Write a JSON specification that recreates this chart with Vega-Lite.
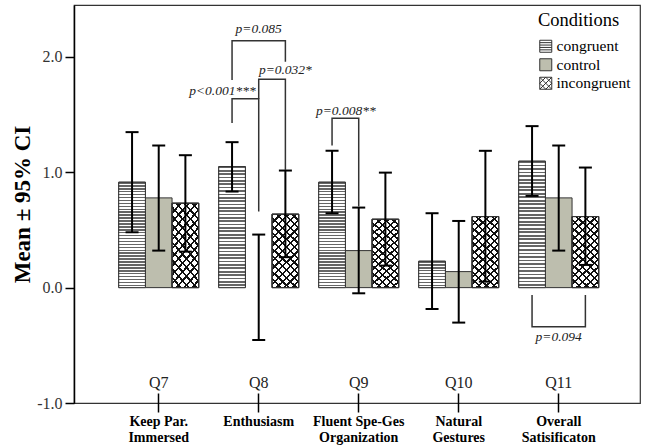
{
  "$schema": "https://vega.github.io/schema/vega-lite/v6.json",
  "width": 566,
  "height": 398,
  "autosize": {"type": "none"},
  "padding": {"left": 74, "top": 5, "right": 8, "bottom": 44},
  "config": {
    "font": "Liberation Serif",
    "view": {"stroke": "#333", "strokeWidth": 1.2}
  },
  "datasets": {
    "bars": [
      {"q": "Q7", "cond": "congruent", "mean": 0.914, "lo": 0.48, "hi": 1.348},
      {"q": "Q7", "cond": "control", "mean": 0.778, "lo": 0.321, "hi": 1.232},
      {"q": "Q7", "cond": "incongruent", "mean": 0.732, "lo": 0.312, "hi": 1.148},
      {"q": "Q8", "cond": "congruent", "mean": 1.049, "lo": 0.833, "hi": 1.261},
      {"q": "Q8", "cond": "control", "mean": 0.0, "lo": -0.454, "hi": 0.46},
      {"q": "Q8", "cond": "incongruent", "mean": 0.637, "lo": 0.264, "hi": 1.015},
      {"q": "Q9", "cond": "congruent", "mean": 0.914, "lo": 0.645, "hi": 1.186},
      {"q": "Q9", "cond": "control", "mean": 0.321, "lo": -0.049, "hi": 0.694},
      {"q": "Q9", "cond": "incongruent", "mean": 0.593, "lo": 0.191, "hi": 0.997},
      {"q": "Q10", "cond": "congruent", "mean": 0.229, "lo": -0.185, "hi": 0.645},
      {"q": "Q10", "cond": "control", "mean": 0.139, "lo": -0.303, "hi": 0.578},
      {"q": "Q10", "cond": "incongruent", "mean": 0.616, "lo": 0.052, "hi": 1.186},
      {"q": "Q11", "cond": "congruent", "mean": 1.096, "lo": 0.795, "hi": 1.4},
      {"q": "Q11", "cond": "control", "mean": 0.778, "lo": 0.321, "hi": 1.232},
      {"q": "Q11", "cond": "incongruent", "mean": 0.616, "lo": 0.197, "hi": 1.041}
    ],
    "brackets": [
      {"b": "b1", "o": 1, "q": "Q8", "cond": "congruent", "y": 1.428},
      {"b": "b1", "o": 2, "q": "Q8", "cond": "congruent", "y": 1.637},
      {"b": "b1", "o": 3, "q": "Q8", "cond": "control", "y": 1.637},
      {"b": "b1", "o": 4, "q": "Q8", "cond": "control", "y": 0.659},
      {"b": "b2", "o": 1, "q": "Q8", "cond": "control", "y": 1.637},
      {"b": "b2", "o": 2, "q": "Q8", "cond": "control", "y": 1.807},
      {"b": "b2", "o": 3, "q": "Q8", "cond": "incongruent", "y": 1.807},
      {"b": "b2", "o": 4, "q": "Q8", "cond": "incongruent", "y": 1.02},
      {"b": "b3", "o": 1, "q": "Q8", "cond": "congruent", "y": 1.8},
      {"b": "b3", "o": 2, "q": "Q8", "cond": "congruent", "y": 2.14},
      {"b": "b3", "o": 3, "q": "Q8", "cond": "incongruent", "y": 2.14},
      {"b": "b3", "o": 4, "q": "Q8", "cond": "incongruent", "y": 1.957},
      {"b": "b4", "o": 1, "q": "Q9", "cond": "congruent", "y": 1.232},
      {"b": "b4", "o": 2, "q": "Q9", "cond": "congruent", "y": 1.469},
      {"b": "b4", "o": 3, "q": "Q9", "cond": "control", "y": 1.469},
      {"b": "b4", "o": 4, "q": "Q9", "cond": "control", "y": 0.703},
      {"b": "b5", "o": 1, "q": "Q11", "cond": "congruent", "y": -0.063},
      {"b": "b5", "o": 2, "q": "Q11", "cond": "congruent", "y": -0.338},
      {"b": "b5", "o": 3, "q": "Q11", "cond": "incongruent", "y": -0.338},
      {"b": "b5", "o": 4, "q": "Q11", "cond": "incongruent", "y": -0.063}
    ],
    "qlabels": [
      {"q": "Q7"}, {"q": "Q8"}, {"q": "Q9"}, {"q": "Q10"}, {"q": "Q11"}
    ]
  },
  "layer": [
    {
      "data": {"name": "bars"},
      "transform": [{"filter": "datum.mean != 0"}],
      "mark": {"type": "bar", "stroke": "#333", "strokeWidth": 1},
      "encoding": {
        "x": {
          "field": "q", "type": "nominal", "title": null,
          "scale": {"domain": ["Q7", "Q8", "Q9", "Q10", "Q11"], "paddingInner": 0.2, "paddingOuter": 0.43, "align": 0.52},
          "axis": {
            "domain": false, "offset": -10, "tickSize": 19, "tickColor": "#000", "tickWidth": 1.5,
            "labelAngle": 0, "labelFontSize": 14, "labelFontWeight": "bold", "labelColor": "#000",
            "labelPadding": 2, "labelLineHeight": 16,
            "labelExpr": "{'Q7':['Keep Par.','Immersed'],'Q8':['Enthusiasm'],'Q9':['Fluent Spe-Ges','Organization'],'Q10':['Natural','Gestures'],'Q11':['Overall','Satisificaton']}[datum.value]"
          }
        },
        "xOffset": {
          "field": "cond", "type": "nominal",
          "scale": {"domain": ["congruent", "control", "incongruent"], "paddingInner": 0, "paddingOuter": 0}
        },
        "y": {
          "field": "mean", "type": "quantitative", "title": "Mean ± 95% CI",
          "scale": {"domain": [-1, 2.45], "nice": false, "zero": false},
          "axis": {
            "values": [-1, 0, 1, 2], "grid": false,
            "labelExpr": "datum.value < 0 ? '-' + format(-datum.value, '.1f') : format(datum.value, '.1f')",
            "domainColor": "#000", "domainWidth": 1.5,
            "tickColor": "#000", "tickWidth": 1.5, "tickSize": 9,
            "labelFontSize": 16, "labelColor": "#333", "labelPadding": 3,
            "titleFontSize": 23, "titleFontWeight": "bold", "titleColor": "#000", "titlePadding": 2
          }
        },
        "fill": {
          "field": "cond", "type": "nominal",
          "scale": {"domain": ["congruent", "control", "incongruent"], "range": ["#ffffff", "#bdbeae", "#ffffff"]},
          "legend": {
            "title": "Conditions", "orient": "none", "legendX": 464, "legendY": 6,
            "titleFontSize": 18.5, "titleFontWeight": "normal", "titleColor": "#000", "titlePadding": 9,
            "labelFontSize": 15.5, "labelColor": "#000", "labelOffset": 3,
            "symbolType": "square", "symbolSize": 144, "symbolStrokeColor": "#333", "symbolStrokeWidth": 1,
            "rowPadding": 0.5, "padding": 0,
            "encode": {
              "symbols": {
                "update": {
                  "shape": {"signal": "datum.value === 'congruent' ? 'M-1,-1H1V1H-1Z M-1,-0.6H1 M-1,-0.2H1 M-1,0.2H1 M-1,0.6H1' : datum.value === 'incongruent' ? 'M-1,-1H1V1H-1Z M-1,0L0,-1 M-1,1L1,-1 M0,1L1,0 M-1,0L0,1 M-1,-1L1,1 M0,-1L1,0' : 'square'"}
                }
              }
            }
          }
        }
      }
    },
    {
      "data": {"name": "bars"},
      "transform": [{"filter": "datum.cond === 'congruent'"}],
      "mark": {"type": "bar", "stroke": "#333", "strokeWidth": 1},
      "encoding": {
        "x": {"field": "q", "type": "nominal"},
        "xOffset": {"field": "cond", "type": "nominal"},
        "y": {"field": "mean", "type": "quantitative"},
        "fill": {
          "condition": {
            "test": "datum.mean > 0.5",
            "value": {"gradient": "linear", "x1": 0, "y1": 0, "x2": 0, "y2": 1, "stops": [
              {"offset": 0, "color": "#666"}, {"offset": 0.0139, "color": "#666"}, {"offset": 0.0139, "color": "#fff"}, {"offset": 0.0278, "color": "#fff"},
              {"offset": 0.0278, "color": "#666"}, {"offset": 0.0417, "color": "#666"}, {"offset": 0.0417, "color": "#fff"}, {"offset": 0.0556, "color": "#fff"},
              {"offset": 0.0556, "color": "#666"}, {"offset": 0.0695, "color": "#666"}, {"offset": 0.0695, "color": "#fff"}, {"offset": 0.0833, "color": "#fff"},
              {"offset": 0.0833, "color": "#666"}, {"offset": 0.0972, "color": "#666"}, {"offset": 0.0972, "color": "#fff"}, {"offset": 0.1111, "color": "#fff"},
              {"offset": 0.1111, "color": "#666"}, {"offset": 0.125, "color": "#666"}, {"offset": 0.125, "color": "#fff"}, {"offset": 0.1389, "color": "#fff"},
              {"offset": 0.1389, "color": "#666"}, {"offset": 0.1528, "color": "#666"}, {"offset": 0.1528, "color": "#fff"}, {"offset": 0.1667, "color": "#fff"},
              {"offset": 0.1667, "color": "#666"}, {"offset": 0.1806, "color": "#666"}, {"offset": 0.1806, "color": "#fff"}, {"offset": 0.1944, "color": "#fff"},
              {"offset": 0.1944, "color": "#666"}, {"offset": 0.2083, "color": "#666"}, {"offset": 0.2083, "color": "#fff"}, {"offset": 0.2222, "color": "#fff"},
              {"offset": 0.2222, "color": "#666"}, {"offset": 0.2361, "color": "#666"}, {"offset": 0.2361, "color": "#fff"}, {"offset": 0.25, "color": "#fff"},
              {"offset": 0.25, "color": "#666"}, {"offset": 0.2639, "color": "#666"}, {"offset": 0.2639, "color": "#fff"}, {"offset": 0.2778, "color": "#fff"},
              {"offset": 0.2778, "color": "#666"}, {"offset": 0.2917, "color": "#666"}, {"offset": 0.2917, "color": "#fff"}, {"offset": 0.3056, "color": "#fff"},
              {"offset": 0.3056, "color": "#666"}, {"offset": 0.3195, "color": "#666"}, {"offset": 0.3195, "color": "#fff"}, {"offset": 0.3333, "color": "#fff"},
              {"offset": 0.3333, "color": "#666"}, {"offset": 0.3472, "color": "#666"}, {"offset": 0.3472, "color": "#fff"}, {"offset": 0.3611, "color": "#fff"},
              {"offset": 0.3611, "color": "#666"}, {"offset": 0.375, "color": "#666"}, {"offset": 0.375, "color": "#fff"}, {"offset": 0.3889, "color": "#fff"},
              {"offset": 0.3889, "color": "#666"}, {"offset": 0.4028, "color": "#666"}, {"offset": 0.4028, "color": "#fff"}, {"offset": 0.4167, "color": "#fff"},
              {"offset": 0.4167, "color": "#666"}, {"offset": 0.4306, "color": "#666"}, {"offset": 0.4306, "color": "#fff"}, {"offset": 0.4444, "color": "#fff"},
              {"offset": 0.4444, "color": "#666"}, {"offset": 0.4583, "color": "#666"}, {"offset": 0.4583, "color": "#fff"}, {"offset": 0.4722, "color": "#fff"},
              {"offset": 0.4722, "color": "#666"}, {"offset": 0.4861, "color": "#666"}, {"offset": 0.4861, "color": "#fff"}, {"offset": 0.5, "color": "#fff"},
              {"offset": 0.5, "color": "#666"}, {"offset": 0.5139, "color": "#666"}, {"offset": 0.5139, "color": "#fff"}, {"offset": 0.5278, "color": "#fff"},
              {"offset": 0.5278, "color": "#666"}, {"offset": 0.5417, "color": "#666"}, {"offset": 0.5417, "color": "#fff"}, {"offset": 0.5556, "color": "#fff"},
              {"offset": 0.5556, "color": "#666"}, {"offset": 0.5695, "color": "#666"}, {"offset": 0.5695, "color": "#fff"}, {"offset": 0.5833, "color": "#fff"},
              {"offset": 0.5833, "color": "#666"}, {"offset": 0.5972, "color": "#666"}, {"offset": 0.5972, "color": "#fff"}, {"offset": 0.6111, "color": "#fff"},
              {"offset": 0.6111, "color": "#666"}, {"offset": 0.625, "color": "#666"}, {"offset": 0.625, "color": "#fff"}, {"offset": 0.6389, "color": "#fff"},
              {"offset": 0.6389, "color": "#666"}, {"offset": 0.6528, "color": "#666"}, {"offset": 0.6528, "color": "#fff"}, {"offset": 0.6667, "color": "#fff"},
              {"offset": 0.6667, "color": "#666"}, {"offset": 0.6806, "color": "#666"}, {"offset": 0.6806, "color": "#fff"}, {"offset": 0.6944, "color": "#fff"},
              {"offset": 0.6944, "color": "#666"}, {"offset": 0.7083, "color": "#666"}, {"offset": 0.7083, "color": "#fff"}, {"offset": 0.7222, "color": "#fff"},
              {"offset": 0.7222, "color": "#666"}, {"offset": 0.7361, "color": "#666"}, {"offset": 0.7361, "color": "#fff"}, {"offset": 0.75, "color": "#fff"},
              {"offset": 0.75, "color": "#666"}, {"offset": 0.7639, "color": "#666"}, {"offset": 0.7639, "color": "#fff"}, {"offset": 0.7778, "color": "#fff"},
              {"offset": 0.7778, "color": "#666"}, {"offset": 0.7917, "color": "#666"}, {"offset": 0.7917, "color": "#fff"}, {"offset": 0.8056, "color": "#fff"},
              {"offset": 0.8056, "color": "#666"}, {"offset": 0.8195, "color": "#666"}, {"offset": 0.8195, "color": "#fff"}, {"offset": 0.8333, "color": "#fff"},
              {"offset": 0.8333, "color": "#666"}, {"offset": 0.8472, "color": "#666"}, {"offset": 0.8472, "color": "#fff"}, {"offset": 0.8611, "color": "#fff"},
              {"offset": 0.8611, "color": "#666"}, {"offset": 0.875, "color": "#666"}, {"offset": 0.875, "color": "#fff"}, {"offset": 0.8889, "color": "#fff"},
              {"offset": 0.8889, "color": "#666"}, {"offset": 0.9028, "color": "#666"}, {"offset": 0.9028, "color": "#fff"}, {"offset": 0.9167, "color": "#fff"},
              {"offset": 0.9167, "color": "#666"}, {"offset": 0.9306, "color": "#666"}, {"offset": 0.9306, "color": "#fff"}, {"offset": 0.9444, "color": "#fff"},
              {"offset": 0.9444, "color": "#666"}, {"offset": 0.9583, "color": "#666"}, {"offset": 0.9583, "color": "#fff"}, {"offset": 0.9722, "color": "#fff"},
              {"offset": 0.9722, "color": "#666"}, {"offset": 0.9861, "color": "#666"}, {"offset": 0.9861, "color": "#fff"}, {"offset": 1, "color": "#fff"}
            ]}
          },
          "value": {"gradient": "linear", "x1": 0, "y1": 0, "x2": 0, "y2": 1, "stops": [
            {"offset": 0, "color": "#666"}, {"offset": 0.0556, "color": "#666"}, {"offset": 0.0556, "color": "#fff"}, {"offset": 0.1111, "color": "#fff"},
            {"offset": 0.1111, "color": "#666"}, {"offset": 0.1667, "color": "#666"}, {"offset": 0.1667, "color": "#fff"}, {"offset": 0.2222, "color": "#fff"},
            {"offset": 0.2222, "color": "#666"}, {"offset": 0.2778, "color": "#666"}, {"offset": 0.2778, "color": "#fff"}, {"offset": 0.3333, "color": "#fff"},
            {"offset": 0.3333, "color": "#666"}, {"offset": 0.3889, "color": "#666"}, {"offset": 0.3889, "color": "#fff"}, {"offset": 0.4444, "color": "#fff"},
            {"offset": 0.4444, "color": "#666"}, {"offset": 0.5, "color": "#666"}, {"offset": 0.5, "color": "#fff"}, {"offset": 0.5556, "color": "#fff"},
            {"offset": 0.5556, "color": "#666"}, {"offset": 0.6111, "color": "#666"}, {"offset": 0.6111, "color": "#fff"}, {"offset": 0.6667, "color": "#fff"},
            {"offset": 0.6667, "color": "#666"}, {"offset": 0.7222, "color": "#666"}, {"offset": 0.7222, "color": "#fff"}, {"offset": 0.7778, "color": "#fff"},
            {"offset": 0.7778, "color": "#666"}, {"offset": 0.8333, "color": "#666"}, {"offset": 0.8333, "color": "#fff"}, {"offset": 0.8889, "color": "#fff"},
            {"offset": 0.8889, "color": "#666"}, {"offset": 0.9444, "color": "#666"}, {"offset": 0.9444, "color": "#fff"}, {"offset": 1, "color": "#fff"}
          ]}
        }
      }
    },
    {
      "data": {"name": "bars"},
      "transform": [{"filter": "datum.cond === 'incongruent'"}],
      "mark": {"type": "bar", "stroke": "#333", "strokeWidth": 1,
        "fill": {"gradient": "linear", "x1": 0, "y1": 0, "x2": 0.4285, "y2": 1.2035, "stops": [
          {"offset": 0, "color": "#111"}, {"offset": 0.022, "color": "#111"}, {"offset": 0.022, "color": "rgba(0,0,0,0)"}, {"offset": 0.0769, "color": "rgba(0,0,0,0)"},
          {"offset": 0.0769, "color": "#111"}, {"offset": 0.0989, "color": "#111"}, {"offset": 0.0989, "color": "rgba(0,0,0,0)"}, {"offset": 0.1538, "color": "rgba(0,0,0,0)"},
          {"offset": 0.1538, "color": "#111"}, {"offset": 0.1758, "color": "#111"}, {"offset": 0.1758, "color": "rgba(0,0,0,0)"}, {"offset": 0.2308, "color": "rgba(0,0,0,0)"},
          {"offset": 0.2308, "color": "#111"}, {"offset": 0.2528, "color": "#111"}, {"offset": 0.2528, "color": "rgba(0,0,0,0)"}, {"offset": 0.3077, "color": "rgba(0,0,0,0)"},
          {"offset": 0.3077, "color": "#111"}, {"offset": 0.3297, "color": "#111"}, {"offset": 0.3297, "color": "rgba(0,0,0,0)"}, {"offset": 0.3846, "color": "rgba(0,0,0,0)"},
          {"offset": 0.3846, "color": "#111"}, {"offset": 0.4066, "color": "#111"}, {"offset": 0.4066, "color": "rgba(0,0,0,0)"}, {"offset": 0.4615, "color": "rgba(0,0,0,0)"},
          {"offset": 0.4615, "color": "#111"}, {"offset": 0.4835, "color": "#111"}, {"offset": 0.4835, "color": "rgba(0,0,0,0)"}, {"offset": 0.5385, "color": "rgba(0,0,0,0)"},
          {"offset": 0.5385, "color": "#111"}, {"offset": 0.5605, "color": "#111"}, {"offset": 0.5605, "color": "rgba(0,0,0,0)"}, {"offset": 0.6154, "color": "rgba(0,0,0,0)"},
          {"offset": 0.6154, "color": "#111"}, {"offset": 0.6374, "color": "#111"}, {"offset": 0.6374, "color": "rgba(0,0,0,0)"}, {"offset": 0.6923, "color": "rgba(0,0,0,0)"},
          {"offset": 0.6923, "color": "#111"}, {"offset": 0.7143, "color": "#111"}, {"offset": 0.7143, "color": "rgba(0,0,0,0)"}, {"offset": 0.7692, "color": "rgba(0,0,0,0)"},
          {"offset": 0.7692, "color": "#111"}, {"offset": 0.7912, "color": "#111"}, {"offset": 0.7912, "color": "rgba(0,0,0,0)"}, {"offset": 0.8462, "color": "rgba(0,0,0,0)"},
          {"offset": 0.8462, "color": "#111"}, {"offset": 0.8682, "color": "#111"}, {"offset": 0.8682, "color": "rgba(0,0,0,0)"}, {"offset": 0.9231, "color": "rgba(0,0,0,0)"},
          {"offset": 0.9231, "color": "#111"}, {"offset": 0.9451, "color": "#111"}, {"offset": 0.9451, "color": "rgba(0,0,0,0)"}, {"offset": 1, "color": "rgba(0,0,0,0)"}
        ]}
      },
      "encoding": {
        "x": {"field": "q", "type": "nominal"},
        "xOffset": {"field": "cond", "type": "nominal"},
        "y": {"field": "mean", "type": "quantitative"}
      }
    },
    {
      "data": {"name": "bars"},
      "transform": [{"filter": "datum.cond === 'incongruent'"}],
      "mark": {"type": "bar", "stroke": "#333", "strokeWidth": 1,
        "fill": {"gradient": "linear", "x1": 0, "y1": 1, "x2": 0.4285, "y2": -0.2035, "stops": [
          {"offset": 0, "color": "#111"}, {"offset": 0.022, "color": "#111"}, {"offset": 0.022, "color": "rgba(0,0,0,0)"}, {"offset": 0.0769, "color": "rgba(0,0,0,0)"},
          {"offset": 0.0769, "color": "#111"}, {"offset": 0.0989, "color": "#111"}, {"offset": 0.0989, "color": "rgba(0,0,0,0)"}, {"offset": 0.1538, "color": "rgba(0,0,0,0)"},
          {"offset": 0.1538, "color": "#111"}, {"offset": 0.1758, "color": "#111"}, {"offset": 0.1758, "color": "rgba(0,0,0,0)"}, {"offset": 0.2308, "color": "rgba(0,0,0,0)"},
          {"offset": 0.2308, "color": "#111"}, {"offset": 0.2528, "color": "#111"}, {"offset": 0.2528, "color": "rgba(0,0,0,0)"}, {"offset": 0.3077, "color": "rgba(0,0,0,0)"},
          {"offset": 0.3077, "color": "#111"}, {"offset": 0.3297, "color": "#111"}, {"offset": 0.3297, "color": "rgba(0,0,0,0)"}, {"offset": 0.3846, "color": "rgba(0,0,0,0)"},
          {"offset": 0.3846, "color": "#111"}, {"offset": 0.4066, "color": "#111"}, {"offset": 0.4066, "color": "rgba(0,0,0,0)"}, {"offset": 0.4615, "color": "rgba(0,0,0,0)"},
          {"offset": 0.4615, "color": "#111"}, {"offset": 0.4835, "color": "#111"}, {"offset": 0.4835, "color": "rgba(0,0,0,0)"}, {"offset": 0.5385, "color": "rgba(0,0,0,0)"},
          {"offset": 0.5385, "color": "#111"}, {"offset": 0.5605, "color": "#111"}, {"offset": 0.5605, "color": "rgba(0,0,0,0)"}, {"offset": 0.6154, "color": "rgba(0,0,0,0)"},
          {"offset": 0.6154, "color": "#111"}, {"offset": 0.6374, "color": "#111"}, {"offset": 0.6374, "color": "rgba(0,0,0,0)"}, {"offset": 0.6923, "color": "rgba(0,0,0,0)"},
          {"offset": 0.6923, "color": "#111"}, {"offset": 0.7143, "color": "#111"}, {"offset": 0.7143, "color": "rgba(0,0,0,0)"}, {"offset": 0.7692, "color": "rgba(0,0,0,0)"},
          {"offset": 0.7692, "color": "#111"}, {"offset": 0.7912, "color": "#111"}, {"offset": 0.7912, "color": "rgba(0,0,0,0)"}, {"offset": 0.8462, "color": "rgba(0,0,0,0)"},
          {"offset": 0.8462, "color": "#111"}, {"offset": 0.8682, "color": "#111"}, {"offset": 0.8682, "color": "rgba(0,0,0,0)"}, {"offset": 0.9231, "color": "rgba(0,0,0,0)"},
          {"offset": 0.9231, "color": "#111"}, {"offset": 0.9451, "color": "#111"}, {"offset": 0.9451, "color": "rgba(0,0,0,0)"}, {"offset": 1, "color": "rgba(0,0,0,0)"}
        ]}
      },
      "encoding": {
        "x": {"field": "q", "type": "nominal"},
        "xOffset": {"field": "cond", "type": "nominal"},
        "y": {"field": "mean", "type": "quantitative"}
      }
    },
    {
      "data": {"name": "bars"},
      "mark": {"type": "rule", "strokeWidth": 2, "color": "#000"},
      "encoding": {
        "x": {"field": "q", "type": "nominal"},
        "xOffset": {"field": "cond", "type": "nominal"},
        "y": {"field": "lo", "type": "quantitative"},
        "y2": {"field": "hi"}
      }
    },
    {
      "data": {"name": "bars"},
      "mark": {"type": "tick", "orient": "horizontal", "size": 13, "thickness": 2, "color": "#000", "opacity": 1},
      "encoding": {
        "x": {"field": "q", "type": "nominal"},
        "xOffset": {"field": "cond", "type": "nominal"},
        "y": {"field": "lo", "type": "quantitative"}
      }
    },
    {
      "data": {"name": "bars"},
      "mark": {"type": "tick", "orient": "horizontal", "size": 13, "thickness": 2, "color": "#000", "opacity": 1},
      "encoding": {
        "x": {"field": "q", "type": "nominal"},
        "xOffset": {"field": "cond", "type": "nominal"},
        "y": {"field": "hi", "type": "quantitative"}
      }
    },
    {
      "data": {"name": "brackets"},
      "mark": {"type": "line", "strokeWidth": 1.5, "color": "#333"},
      "encoding": {
        "x": {"field": "q", "type": "nominal"},
        "xOffset": {"field": "cond", "type": "nominal"},
        "y": {"field": "y", "type": "quantitative"},
        "detail": {"field": "b"},
        "order": {"field": "o", "type": "quantitative"}
      }
    },
    {
      "data": {"values": [
        {"text": "p=0.085", "q": "Q8", "cond": "control", "y": 2.239},
        {"text": "p=0.032*", "q": "Q8", "cond": "incongruent", "y": 1.884},
        {"text": "p=0.094", "q": "Q11", "cond": "control", "y": -0.425}
      ]},
      "mark": {"type": "text", "fontStyle": "italic", "fontSize": 13.5, "color": "#222", "align": "center", "baseline": "middle"},
      "encoding": {
        "x": {"field": "q", "type": "nominal"},
        "xOffset": {"field": "cond", "type": "nominal"},
        "y": {"field": "y", "type": "quantitative"},
        "text": {"field": "text"}
      }
    },
    {
      "data": {"values": [
        {"text": "p<0.001***", "q": "Q8", "cond": "control", "y": 1.703}
      ]},
      "mark": {"type": "text", "fontStyle": "italic", "fontSize": 13.5, "color": "#222", "align": "right", "baseline": "middle", "dx": -3},
      "encoding": {
        "x": {"field": "q", "type": "nominal"},
        "xOffset": {"field": "cond", "type": "nominal"},
        "y": {"field": "y", "type": "quantitative"},
        "text": {"field": "text"}
      }
    },
    {
      "data": {"values": [
        {"text": "p=0.008**", "q": "Q9", "cond": "control", "y": 1.534}
      ]},
      "mark": {"type": "text", "fontStyle": "italic", "fontSize": 13.5, "color": "#222", "align": "right", "baseline": "middle", "dx": 17},
      "encoding": {
        "x": {"field": "q", "type": "nominal"},
        "xOffset": {"field": "cond", "type": "nominal"},
        "y": {"field": "y", "type": "quantitative"},
        "text": {"field": "text"}
      }
    },
    {
      "data": {"name": "qlabels"},
      "mark": {"type": "text", "fontSize": 16, "color": "#222", "align": "center", "baseline": "middle"},
      "encoding": {
        "x": {"field": "q", "type": "nominal"},
        "y": {"datum": -0.826},
        "text": {"field": "q"}
      }
    }
  ]
}
